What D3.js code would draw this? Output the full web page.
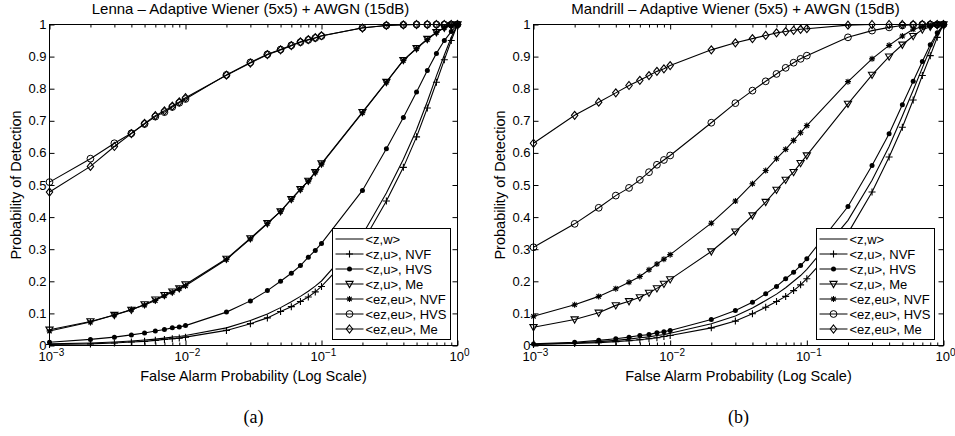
<!DOCTYPE html>
<html>
<head>
<meta charset="utf-8">
<style>
  body { margin: 0; background: #fff; }
  svg { display: block; }
  text { font-family: "Liberation Sans", Arial, Helvetica, sans-serif; fill: #000; }
  .tag { font-family: "Liberation Serif", "Times New Roman", serif; font-size: 18px; }
</style>
</head>
<body>
<svg id="chart" width="955" height="436"></svg>
<script src="https://d3js.org/d3.v7.min.js"></script>
<script>
// false alarm probabilities (x values)
const falseAlarm = [0.001, 0.002, 0.003, 0.004, 0.005, 0.006, 0.007, 0.008, 0.009,
  0.01, 0.02, 0.03, 0.04, 0.05, 0.06, 0.07, 0.08, 0.09,
  0.1, 0.2, 0.3, 0.4, 0.5, 0.6, 0.7, 0.8, 0.9, 1];

const seriesNames = ["<z,w>", "<z,u>, NVF", "<z,u>, HVS", "<z,u>, Me",
  "<ez,eu>, NVF", "<ez,eu>, HVS", "<ez,eu>, Me"];
const seriesMarkers = ["none", "plus", "dot", "tri", "star", "circ", "diam"];

// Lenna
const lennaZW    = [0.005, 0.008, 0.011, 0.014, 0.017, 0.020, 0.023, 0.026, 0.028, 0.031, 0.055, 0.078, 0.098, 0.118, 0.136, 0.153, 0.169, 0.185, 0.201, 0.345, 0.475, 0.580, 0.672, 0.760, 0.840, 0.905, 0.960, 1];
const lennaZuNVF = [0.003, 0.005, 0.008, 0.011, 0.013, 0.016, 0.019, 0.021, 0.023, 0.026, 0.047, 0.068, 0.086, 0.106, 0.121, 0.137, 0.151, 0.167, 0.184, 0.320, 0.450, 0.555, 0.650, 0.740, 0.820, 0.890, 0.950, 1];
const lennaZuHVS = [0.010, 0.019, 0.026, 0.033, 0.039, 0.045, 0.050, 0.055, 0.058, 0.062, 0.104, 0.139, 0.171, 0.200, 0.225, 0.249, 0.275, 0.296, 0.318, 0.483, 0.613, 0.710, 0.790, 0.857, 0.910, 0.950, 0.978, 1];
const lennaZuMe  = [0.049, 0.075, 0.095, 0.111, 0.128, 0.143, 0.157, 0.168, 0.178, 0.190, 0.270, 0.334, 0.381, 0.418, 0.456, 0.487, 0.513, 0.540, 0.567, 0.727, 0.821, 0.889, 0.926, 0.955, 0.976, 0.990, 0.997, 1];
const lennaEzNVF = [0.045, 0.073, 0.095, 0.112, 0.126, 0.140, 0.155, 0.166, 0.177, 0.186, 0.268, 0.332, 0.380, 0.418, 0.455, 0.486, 0.512, 0.540, 0.565, 0.725, 0.820, 0.888, 0.925, 0.953, 0.975, 0.990, 0.997, 1];
const lennaEzHVS = [0.509, 0.582, 0.630, 0.661, 0.690, 0.713, 0.727, 0.743, 0.756, 0.768, 0.843, 0.882, 0.907, 0.922, 0.935, 0.945, 0.952, 0.958, 0.964, 0.990, 0.997, 0.999, 1, 1, 1, 1, 1, 1];
const lennaEzMe  = [0.478, 0.558, 0.620, 0.660, 0.692, 0.716, 0.731, 0.746, 0.759, 0.772, 0.842, 0.880, 0.906, 0.921, 0.934, 0.946, 0.953, 0.959, 0.965, 0.989, 0.997, 0.999, 1, 1, 1, 1, 1, 1];

// Mandrill
const mandrillZW    = [0.004, 0.008, 0.012, 0.016, 0.020, 0.024, 0.027, 0.031, 0.034, 0.038, 0.068, 0.092, 0.117, 0.140, 0.160, 0.180, 0.200, 0.218, 0.237, 0.390, 0.515, 0.620, 0.715, 0.795, 0.865, 0.925, 0.970, 1];
const mandrillZuNVF = [0.003, 0.006, 0.009, 0.012, 0.015, 0.018, 0.021, 0.024, 0.028, 0.031, 0.055, 0.076, 0.099, 0.119, 0.137, 0.153, 0.171, 0.189, 0.208, 0.350, 0.478, 0.587, 0.680, 0.765, 0.841, 0.903, 0.960, 1];
const mandrillZuHVS = [0.005, 0.010, 0.016, 0.021, 0.026, 0.031, 0.034, 0.040, 0.043, 0.047, 0.081, 0.109, 0.135, 0.161, 0.184, 0.208, 0.228, 0.249, 0.270, 0.433, 0.561, 0.660, 0.750, 0.823, 0.885, 0.937, 0.974, 1];
const mandrillZuMe  = [0.057, 0.081, 0.102, 0.125, 0.138, 0.150, 0.164, 0.178, 0.192, 0.206, 0.293, 0.355, 0.405, 0.447, 0.485, 0.516, 0.540, 0.568, 0.592, 0.753, 0.843, 0.900, 0.937, 0.964, 0.984, 0.993, 0.998, 1];
const mandrillEzNVF = [0.091, 0.127, 0.153, 0.177, 0.197, 0.215, 0.236, 0.254, 0.269, 0.283, 0.381, 0.450, 0.504, 0.545, 0.582, 0.611, 0.639, 0.663, 0.685, 0.822, 0.893, 0.935, 0.964, 0.985, 0.993, 0.997, 0.999, 1];
const mandrillEzHVS = [0.306, 0.379, 0.429, 0.467, 0.491, 0.516, 0.540, 0.563, 0.578, 0.592, 0.694, 0.755, 0.794, 0.823, 0.846, 0.865, 0.881, 0.893, 0.903, 0.960, 0.981, 0.991, 0.997, 0.999, 1, 1, 1, 1];
const mandrillEzMe  = [0.630, 0.717, 0.758, 0.787, 0.810, 0.826, 0.841, 0.854, 0.862, 0.872, 0.921, 0.943, 0.956, 0.966, 0.974, 0.978, 0.982, 0.985, 0.987, 0.998, 1, 1, 1, 1, 1, 1, 1, 1];

const yTicks = [0, 0.1, 0.2, 0.3, 0.4, 0.5, 0.6, 0.7, 0.8, 0.9, 1];
const yTickLabels = ["0", "0.1", "0.2", "0.3", "0.4", "0.5", "0.6", "0.7", "0.8", "0.9", "1"];
const xMajor = [0.001, 0.01, 0.1, 1];
const xMajorExp = ["\u22123", "\u22122", "\u22121", "0"];
const xMinor = [0.002, 0.003, 0.004, 0.005, 0.006, 0.007, 0.008, 0.009,
  0.02, 0.03, 0.04, 0.05, 0.06, 0.07, 0.08, 0.09,
  0.2, 0.3, 0.4, 0.5, 0.6, 0.7, 0.8, 0.9];

const panels = [
  { left: 49.5, right: 457.5, top: 24.5, bottom: 345.5,
    title: "Lenna \u2013 Adaptive Wiener (5x5) + AWGN (15dB)", tag: "(a)",
    legendX: 332.5,
    series: [lennaZW, lennaZuNVF, lennaZuHVS, lennaZuMe, lennaEzNVF, lennaEzHVS, lennaEzMe] },
  { left: 533.5, right: 943.5, top: 24.5, bottom: 345.5,
    title: "Mandrill \u2013 Adaptive Wiener (5x5) + AWGN (15dB)", tag: "(b)",
    legendX: 816.5,
    series: [mandrillZW, mandrillZuNVF, mandrillZuHVS, mandrillZuMe, mandrillEzNVF, mandrillEzHVS, mandrillEzMe] }
];

const FS = 13;
const svg = d3.select("#chart");

function drawMarker(g, type, cx, cy) {
  if (type === "none") return;
  if (type === "dot") {
    g.append("circle").attr("cx", cx).attr("cy", cy).attr("r", 2.5).attr("fill", "#000");
    return;
  }
  if (type === "circ") {
    g.append("circle").attr("cx", cx).attr("cy", cy).attr("r", 3.4)
      .attr("fill", "none").attr("stroke", "#000");
    return;
  }
  let p;
  if (type === "plus") p = "M-3.5,0H3.5M0,-3.5V3.5";
  else if (type === "star") p = "M-3,0H3M0,-3V3M-2.2,-2.2L2.2,2.2M-2.2,2.2L2.2,-2.2";
  else if (type === "tri") p = "M-3.6,-2.6L3.6,-2.6L0,3.6Z";
  else if (type === "diam") p = "M0,-4L3.2,0L0,4L-3.2,0Z";
  g.append("path").attr("d", p).attr("transform", `translate(${cx},${cy})`)
    .attr("fill", "none").attr("stroke", "#000").attr("stroke-width", 1.1);
}

panels.forEach(pn => {
  const x = d3.scaleLog().domain([0.001, 1]).range([pn.left, pn.right]);
  const y = d3.scaleLinear().domain([0, 1]).range([pn.bottom, pn.top]);
  const g = svg.append("g");

  // axes box
  g.append("rect").attr("x", pn.left).attr("y", pn.top)
    .attr("width", pn.right - pn.left).attr("height", pn.bottom - pn.top)
    .attr("fill", "#fff").attr("stroke", "#000").attr("stroke-width", 1);

  // ticks (inward, all four sides)
  const axes = [
    [d3.axisBottom(x).tickValues(xMajor).tickSize(-5), `translate(0,${pn.bottom})`],
    [d3.axisBottom(x).tickValues(xMinor).tickSize(-3), `translate(0,${pn.bottom})`],
    [d3.axisTop(x).tickValues(xMajor).tickSize(-5), `translate(0,${pn.top})`],
    [d3.axisTop(x).tickValues(xMinor).tickSize(-3), `translate(0,${pn.top})`],
    [d3.axisLeft(y).tickValues(yTicks).tickSize(-5), `translate(${pn.left},0)`],
    [d3.axisRight(y).tickValues(yTicks).tickSize(-5), `translate(${pn.right},0)`]
  ];
  axes.forEach(([ax, tr]) => {
    const a = g.append("g").attr("transform", tr).call(ax.tickFormat(() => ""));
    a.select(".domain").remove();
    a.selectAll("line").attr("stroke", "#000");
    a.selectAll("text").remove();
  });

  // y tick labels
  g.selectAll(".ylab").data(yTicks).join("text")
    .attr("x", pn.left - 3).attr("y", d => y(d)).attr("dy", "0.35em")
    .attr("text-anchor", "end").attr("font-size", FS)
    .text((d, i) => yTickLabels[i]);

  // x tick labels 10^n
  xMajor.forEach((v, i) => {
    const t = g.append("text").attr("x", x(v) + 2).attr("y", pn.bottom + 15.5)
      .attr("text-anchor", "middle").attr("font-size", FS);
    t.append("tspan").text("10");
    t.append("tspan").attr("font-size", 10).attr("dy", -5.5).text(xMajorExp[i]);
  });

  // labels
  const cx = (pn.left + pn.right) / 2;
  g.append("text").attr("x", cx - 3).attr("y", 14).attr("text-anchor", "middle")
    .attr("font-size", 15).text(pn.title);
  g.append("text").attr("x", cx).attr("y", 380.5).attr("text-anchor", "middle")
    .attr("font-size", 14.5).text("False Alarm Probability (Log Scale)");
  g.append("text").attr("transform", `translate(${pn.left - 29},${(pn.top + pn.bottom) / 2}) rotate(-90)`)
    .attr("text-anchor", "middle").attr("font-size", 14.5).text("Probability of Detection");
  g.append("text").attr("class", "tag").attr("x", cx).attr("y", 423)
    .attr("text-anchor", "middle").text(pn.tag);

  // curves
  const line = d3.line().x(d => x(d[0])).y(d => y(d[1]));
  pn.series.forEach((vals, si) => {
    const pts = falseAlarm.map((f, i) => [f, vals[i]]);
    const sg = g.append("g");
    sg.append("path").attr("d", line(pts)).attr("fill", "none")
      .attr("stroke", "#000").attr("stroke-width", 1.1);
    pts.forEach(p => drawMarker(sg, seriesMarkers[si], x(p[0]), y(p[1])));
  });

  // legend
  const lg = g.append("g");
  lg.append("rect").attr("x", pn.legendX).attr("y", 228.5).attr("width", 118).attr("height", 111)
    .attr("fill", "#fff").attr("stroke", "#000");
  seriesNames.forEach((name, i) => {
    const ry = 239 + i * 15;
    lg.append("line").attr("x1", pn.legendX + 3).attr("x2", pn.legendX + 31)
      .attr("y1", ry).attr("y2", ry).attr("stroke", "#000");
    drawMarker(lg, seriesMarkers[i], pn.legendX + 17, ry);
    lg.append("text").attr("x", pn.legendX + 33).attr("y", ry + 4.5)
      .attr("font-size", FS).text(name);
  });
});
</script>
</body>
</html>
